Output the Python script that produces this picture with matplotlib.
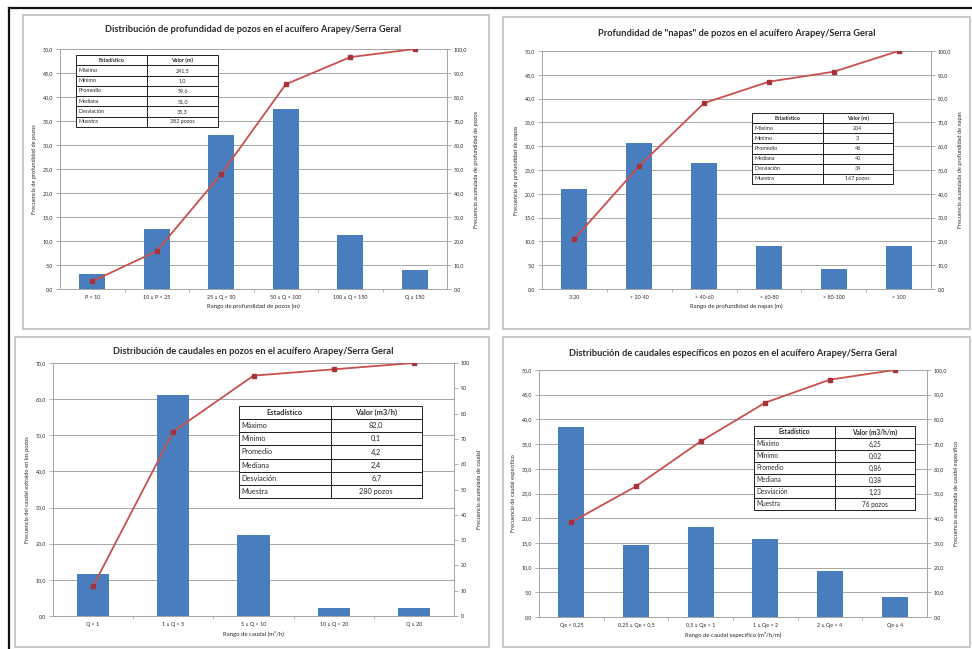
import matplotlib
matplotlib.use('Agg')
import matplotlib.pyplot as plt
from matplotlib.patches import Rectangle
from matplotlib.lines import Line2D

# ── Data ────────────────────────────────────────────────────
P1_CATS = ['P < 10', '10 ≥ P < 25', '25 ≥ Q < 50', '50 ≥ Q < 100', '100 ≥ Q < 150', 'Q ≥ 150']
P1_FREQ = [3.2, 12.6, 32.1, 37.4, 11.3, 3.9]
P1_CUM = [3.2, 15.8, 47.9, 85.3, 96.6, 100.0]
P1_STATS = [('Máximo', '241,5'), ('Mínimo', '1,0'), ('Promedio', '59,6'),
            ('Mediana', '51,0'), ('Desviación', '35,3'), ('Muestra', '382 pozos')]

P2_CATS = ['3-20', '> 20-40', '> 40-60', '> 60-80', '> 80-100', '> 100']
P2_FREQ = [21.1, 30.6, 26.4, 9.0, 4.2, 9.0]
P2_CUM = [21.1, 51.7, 78.1, 87.1, 91.3, 100.0]
P2_STATS = [('Máximo', '204'), ('Mínimo', '3'), ('Promedio', '48'),
            ('Mediana', '40'), ('Desviación', '34'), ('Muestra', '167 pozos')]

P3_CATS = ['Q < 1', '1 ≥ Q < 5', '5 ≥ Q < 10', '10 ≥ Q < 20', 'Q ≥ 20']
P3_FREQ = [11.6, 61.1, 22.3, 2.2, 2.2]
P3_CUM = [11.8, 72.9, 95.0, 97.5, 100.0]
P3_STATS = [('Máximo', '82,0'), ('Mínimo', '0,1'), ('Promedio', '4,2'),
            ('Mediana', '2,4'), ('Desviación', '6,7'), ('Muestra', '280 pozos')]

P4_CATS = ['Qe < 0,25', '0,25 ≥ Qe < 0,5', '0,5 ≥ Qe < 1', '1 ≥ Qe < 2', '2 ≥ Qe < 4', 'Qe ≥ 4']
P4_FREQ = [38.4, 14.5, 18.2, 15.7, 9.3, 4.1]
P4_CUM = [38.4, 52.9, 71.1, 86.8, 96.1, 100.0]
P4_STATS = [('Máximo', '6,25'), ('Mínimo', '0,02'), ('Promedio', '0,86'),
            ('Mediana', '0,38'), ('Desviación', '1,23'), ('Muestra', '76 pozos')]

# ── Style ───────────────────────────────────────────────────
BLUE = '#4A7DBE'
RED = '#C9504D'
DARKRED = '#A8323A'
GRID = '#A6A6A6'
TXT = '#2A2A2A'
W, H = 972, 649

plt.rcParams.update({
    'font.family': ['Lato', 'DejaVu Sans'],
    'axes.edgecolor': GRID,
    'xtick.color': GRID,
    'ytick.color': GRID,
    'xtick.labelcolor': TXT,
    'ytick.labelcolor': TXT,
})

fig = plt.figure(figsize=(W / 100, H / 100), dpi=100)


def px_rect(l, t, r, b):
    """Pixel box (left, top, right, bottom) -> figure fraction rect."""
    return [l / W, 1 - b / H, (r - l) / W, (b - t) / H]


def fmt(v, dec):
    return f'{v:.{dec}f}'.replace('.', ',')


def draw_panel(box, cats, freq, cum, ymax, ystep, rdec, title, title_y,
               xlabel, ylab_l, ylab_r, tbox, stats, unit, tfs):
    ax = fig.add_axes(px_rect(*box))
    x = list(range(len(cats)))
    ax.bar(x, freq, width=0.4, color=BLUE, zorder=3)
    ax.set_xlim(-0.5, len(cats) - 0.5)
    ax.set_ylim(0, ymax)
    yt = [i * ystep for i in range(int(round(ymax / ystep)) + 1)]
    ax.set_yticks(yt)
    ax.set_yticklabels([fmt(v, 1) for v in yt], fontsize=3.8)
    ax.grid(axis='y', color=GRID, linewidth=0.7, zorder=0)
    ax.set_xticks(x)
    ax.set_xticklabels(cats, fontsize=3.9)
    ax.set_xticks([i + 0.5 for i in x[:-1]], minor=True)
    ax.tick_params(axis='x', which='major', length=0, pad=4)
    ax.tick_params(axis='x', which='minor', length=2, direction='out')
    ax.tick_params(axis='y', length=3, width=0.6, pad=2)
    for s in ax.spines.values():
        s.set_linewidth(0.7)
    ax.set_xlabel(xlabel, fontsize=4.3, color=TXT, labelpad=3)
    ax.set_ylabel(ylab_l, fontsize=4.1, color=TXT, labelpad=4)

    ax2 = ax.twinx()
    ax2.plot(x, cum, color=RED, linewidth=1.3, zorder=5,
             marker='s', markersize=3.2, markerfacecolor=DARKRED,
             markeredgecolor=DARKRED)
    ax2.set_ylim(0, 100)
    rt = list(range(0, 101, 10))
    ax2.set_yticks(rt)
    ax2.set_yticklabels([fmt(v, rdec) for v in rt], fontsize=3.8)
    ax2.tick_params(axis='y', length=3, width=0.6, pad=2)
    ax2.set_ylabel(ylab_r, fontsize=4.1, color=TXT, labelpad=5)
    for s in ax2.spines.values():
        s.set_linewidth(0.7)

    cx = (box[0] + box[2]) / 2 / W
    fig.text(cx, 1 - title_y / H, title, ha='center', va='center',
             fontsize=6.7, fontweight='bold', color=TXT)

    # statistics table
    tax = fig.add_axes(px_rect(*tbox))
    tax.set_axis_off()
    rows = [('Estadístico', unit)] + stats
    tbl = tax.table(cellText=[list(r) for r in rows], bbox=[0, 0, 1, 1],
                    colWidths=[0.5, 0.5], cellLoc='center')
    tbl.auto_set_font_size(False)
    for (r, c), cell in tbl.get_celld().items():
        cell.set_edgecolor('#202020')
        cell.set_linewidth(0.7)
        cell.set_facecolor('white')
        t = cell.get_text()
        t.set_fontsize(tfs)
        t.set_color(TXT)
        if r == 0:
            t.set_fontweight('bold')
        elif c == 0:
            cell.set_text_props(ha='left')
            cell.PAD = 0.03
    tax.set_zorder(10)
    return ax


# ── Chart frames and scan border ────────────────────────────
for l, t, r, b in [(23, 15, 489, 329), (503, 17, 970, 329),
                   (15, 337, 489, 647), (503, 337, 970, 647)]:
    fig.patches.append(Rectangle((l / W, 1 - b / H), (r - l) / W, (b - t) / H,
                                 transform=fig.transFigure, fill=False,
                                 edgecolor='#C8C8C8', linewidth=1.4))
fig.lines.append(Line2D([9 / W, 1], [1 - 8 / H, 1 - 8 / H], transform=fig.transFigure,
                        color='#111111', linewidth=1.6))
fig.lines.append(Line2D([9 / W, 9 / W], [1 - 8 / H, 0], transform=fig.transFigure,
                        color='#111111', linewidth=1.6))

# ── Panels ──────────────────────────────────────────────────
draw_panel((60, 49, 447, 289), P1_CATS, P1_FREQ, P1_CUM, 50, 5, 1,
           'Distribución de profundidad de pozos en el acuífero Arapey/Serra Geral', 30,
           'Rango de profundidad de pozos (m)',
           'Frecuencia de profundidad de pozos',
           'Frecuencia acumulada de profundidad de pozos',
           (76, 55, 218, 127), P1_STATS, 'Valor (m)', 3.9)

draw_panel((542, 51, 931, 289), P2_CATS, P2_FREQ, P2_CUM, 50, 5, 1,
           'Profundidad de "napas" de pozos en el acuífero Arapey/Serra Geral', 34,
           'Rango de profundidad de napas (m)',
           'Frecuencia de profundidad de napas',
           'Frecuencia acumulada de profundidad de napas',
           (752, 113, 893, 184), P2_STATS, 'Valor (m)', 3.9)

draw_panel((53, 363, 454, 616), P3_CATS, P3_FREQ, P3_CUM, 70, 10, 0,
           'Distribución de caudales en pozos en el acuífero Arapey/Serra Geral', 352,
           'Rango de caudal (m³/h)',
           'Frecuencia del caudal extraído en los pozos',
           'Frecuencia acumulada de caudal',
           (239, 406, 422, 498), P3_STATS, 'Valor (m3/h)', 5.3)

draw_panel((539, 370, 927, 617), P4_CATS, P4_FREQ, P4_CUM, 50, 5, 1,
           'Distribución de caudales específicos en pozos en el acuífero Arapey/Serra Geral', 353,
           'Rango de caudal específico (m³/h/m)',
           'Frecuencia de caudal específico',
           'Frecuencia acumulada de caudal específico',
           (754, 426, 915, 510), P4_STATS, 'Valor (m3/h/m)', 4.7)

fig.savefig('out.png', dpi=100, facecolor='white')
